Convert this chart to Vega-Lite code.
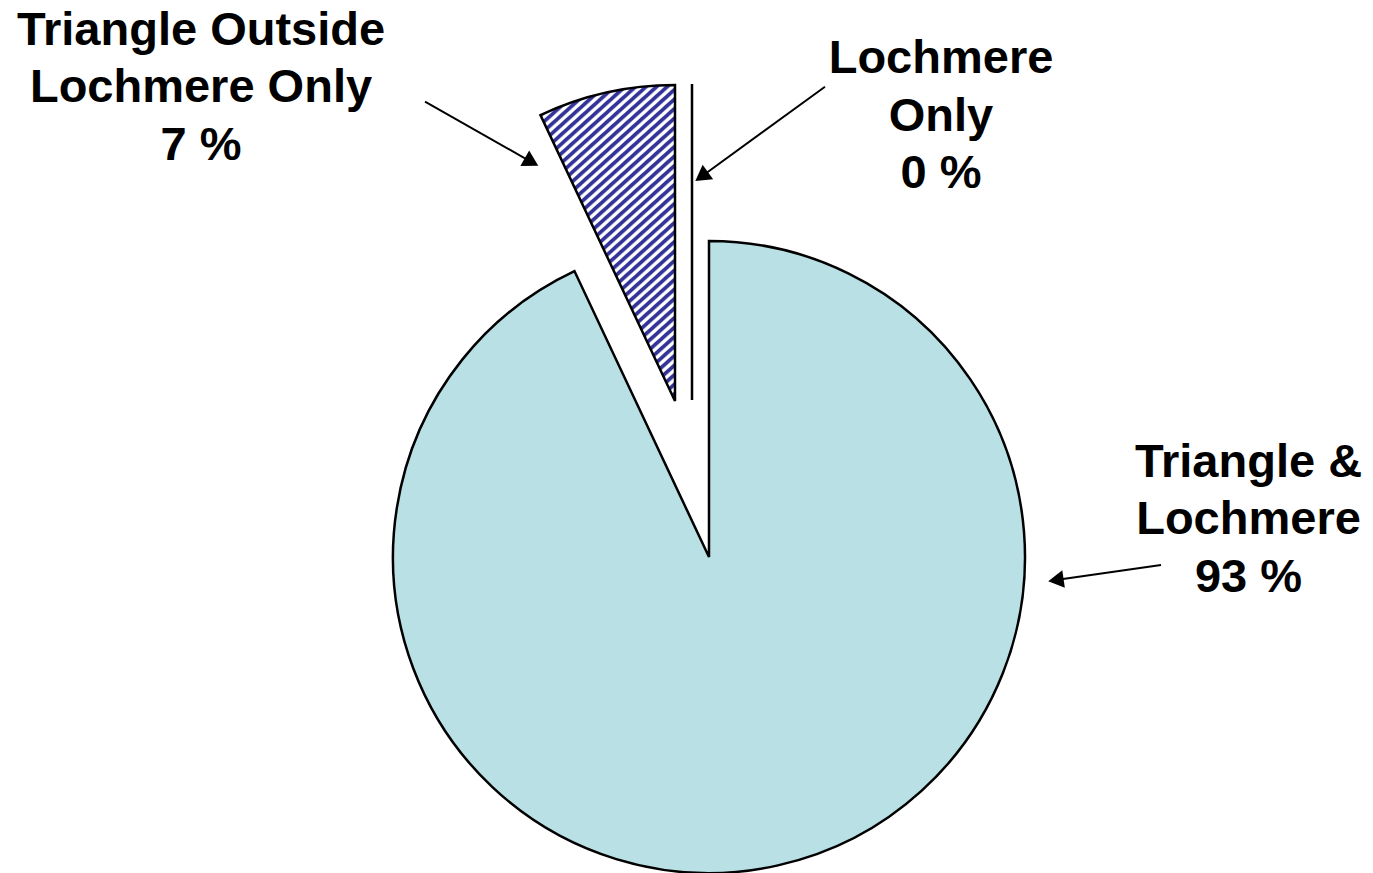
{
  "$schema": "https://vega.github.io/schema/vega-lite/v6.json",
  "width": 1373,
  "height": 873,
  "padding": 0,
  "autosize": {"type": "none"},
  "background": "white",
  "config": {"view": {"stroke": null}},
  "data": {
    "values": [
      {"category": "Triangle & Lochmere", "value": 93, "label": ["Triangle &", "Lochmere", "93 %"]},
      {"category": "Triangle Outside Lochmere Only", "value": 7, "label": ["Triangle Outside", "Lochmere Only", "7 %"]},
      {"category": "Lochmere Only", "value": 0, "label": ["Lochmere", "Only", "0 %"]}
    ]
  },
  "transform": [
    {"stack": "value", "groupby": [], "sort": [{"field": "value", "order": "descending"}], "as": ["t0", "t1"]}
  ],
  "layer": [
    {
      "transform": [{"filter": "datum.category === 'Triangle & Lochmere'"}],
      "mark": {"type": "arc", "outerRadius": 316, "fill": "#B9E0E4", "stroke": "#000000", "strokeWidth": 2.5},
      "encoding": {
        "x": {"datum": 0, "type": "quantitative", "scale": {"domain": [-224.37, 210.13], "nice": false, "zero": false}, "axis": null},
        "y": {"datum": 0, "type": "quantitative", "scale": {"domain": [-100, 176.27], "nice": false, "zero": false}, "axis": null},
        "theta": {"field": "t0", "type": "quantitative", "scale": {"domain": [0, 100]}},
        "theta2": {"field": "t1"}
      }
    },
    {
      "transform": [{"filter": "datum.category === 'Triangle Outside Lochmere Only'"}],
      "mark": {
        "type": "arc", "outerRadius": 316, "stroke": "#000000", "strokeWidth": 2.5,
        "fill": {
          "gradient": "linear", "x1": 0, "y1": 0, "x2": 0.4623, "y2": 1.2061,
          "stops": [
            {"offset": 0, "color": "#333399"}, {"offset": 0.0076, "color": "#333399"}, {"offset": 0.0120, "color": "#ffffff"}, {"offset": 0.0185, "color": "#ffffff"},
            {"offset": 0.0217, "color": "#333399"}, {"offset": 0.0293, "color": "#333399"}, {"offset": 0.0337, "color": "#ffffff"}, {"offset": 0.0402, "color": "#ffffff"},
            {"offset": 0.0435, "color": "#333399"}, {"offset": 0.0511, "color": "#333399"}, {"offset": 0.0554, "color": "#ffffff"}, {"offset": 0.0620, "color": "#ffffff"},
            {"offset": 0.0652, "color": "#333399"}, {"offset": 0.0728, "color": "#333399"}, {"offset": 0.0772, "color": "#ffffff"}, {"offset": 0.0837, "color": "#ffffff"},
            {"offset": 0.0870, "color": "#333399"}, {"offset": 0.0946, "color": "#333399"}, {"offset": 0.0989, "color": "#ffffff"}, {"offset": 0.1054, "color": "#ffffff"},
            {"offset": 0.1087, "color": "#333399"}, {"offset": 0.1163, "color": "#333399"}, {"offset": 0.1207, "color": "#ffffff"}, {"offset": 0.1272, "color": "#ffffff"},
            {"offset": 0.1304, "color": "#333399"}, {"offset": 0.1380, "color": "#333399"}, {"offset": 0.1424, "color": "#ffffff"}, {"offset": 0.1489, "color": "#ffffff"},
            {"offset": 0.1522, "color": "#333399"}, {"offset": 0.1598, "color": "#333399"}, {"offset": 0.1641, "color": "#ffffff"}, {"offset": 0.1707, "color": "#ffffff"},
            {"offset": 0.1739, "color": "#333399"}, {"offset": 0.1815, "color": "#333399"}, {"offset": 0.1859, "color": "#ffffff"}, {"offset": 0.1924, "color": "#ffffff"},
            {"offset": 0.1957, "color": "#333399"}, {"offset": 0.2033, "color": "#333399"}, {"offset": 0.2076, "color": "#ffffff"}, {"offset": 0.2141, "color": "#ffffff"},
            {"offset": 0.2174, "color": "#333399"}, {"offset": 0.2250, "color": "#333399"}, {"offset": 0.2293, "color": "#ffffff"}, {"offset": 0.2359, "color": "#ffffff"},
            {"offset": 0.2391, "color": "#333399"}, {"offset": 0.2467, "color": "#333399"}, {"offset": 0.2511, "color": "#ffffff"}, {"offset": 0.2576, "color": "#ffffff"},
            {"offset": 0.2609, "color": "#333399"}, {"offset": 0.2685, "color": "#333399"}, {"offset": 0.2728, "color": "#ffffff"}, {"offset": 0.2793, "color": "#ffffff"},
            {"offset": 0.2826, "color": "#333399"}, {"offset": 0.2902, "color": "#333399"}, {"offset": 0.2946, "color": "#ffffff"}, {"offset": 0.3011, "color": "#ffffff"},
            {"offset": 0.3043, "color": "#333399"}, {"offset": 0.3120, "color": "#333399"}, {"offset": 0.3163, "color": "#ffffff"}, {"offset": 0.3228, "color": "#ffffff"},
            {"offset": 0.3261, "color": "#333399"}, {"offset": 0.3337, "color": "#333399"}, {"offset": 0.3380, "color": "#ffffff"}, {"offset": 0.3446, "color": "#ffffff"},
            {"offset": 0.3478, "color": "#333399"}, {"offset": 0.3554, "color": "#333399"}, {"offset": 0.3598, "color": "#ffffff"}, {"offset": 0.3663, "color": "#ffffff"},
            {"offset": 0.3696, "color": "#333399"}, {"offset": 0.3772, "color": "#333399"}, {"offset": 0.3815, "color": "#ffffff"}, {"offset": 0.3880, "color": "#ffffff"},
            {"offset": 0.3913, "color": "#333399"}, {"offset": 0.3989, "color": "#333399"}, {"offset": 0.4033, "color": "#ffffff"}, {"offset": 0.4098, "color": "#ffffff"},
            {"offset": 0.4130, "color": "#333399"}, {"offset": 0.4207, "color": "#333399"}, {"offset": 0.4250, "color": "#ffffff"}, {"offset": 0.4315, "color": "#ffffff"},
            {"offset": 0.4348, "color": "#333399"}, {"offset": 0.4424, "color": "#333399"}, {"offset": 0.4467, "color": "#ffffff"}, {"offset": 0.4533, "color": "#ffffff"},
            {"offset": 0.4565, "color": "#333399"}, {"offset": 0.4641, "color": "#333399"}, {"offset": 0.4685, "color": "#ffffff"}, {"offset": 0.4750, "color": "#ffffff"},
            {"offset": 0.4783, "color": "#333399"}, {"offset": 0.4859, "color": "#333399"}, {"offset": 0.4902, "color": "#ffffff"}, {"offset": 0.4967, "color": "#ffffff"},
            {"offset": 0.5000, "color": "#333399"}, {"offset": 0.5076, "color": "#333399"}, {"offset": 0.5120, "color": "#ffffff"}, {"offset": 0.5185, "color": "#ffffff"},
            {"offset": 0.5217, "color": "#333399"}, {"offset": 0.5293, "color": "#333399"}, {"offset": 0.5337, "color": "#ffffff"}, {"offset": 0.5402, "color": "#ffffff"},
            {"offset": 0.5435, "color": "#333399"}, {"offset": 0.5511, "color": "#333399"}, {"offset": 0.5554, "color": "#ffffff"}, {"offset": 0.5620, "color": "#ffffff"},
            {"offset": 0.5652, "color": "#333399"}, {"offset": 0.5728, "color": "#333399"}, {"offset": 0.5772, "color": "#ffffff"}, {"offset": 0.5837, "color": "#ffffff"},
            {"offset": 0.5870, "color": "#333399"}, {"offset": 0.5946, "color": "#333399"}, {"offset": 0.5989, "color": "#ffffff"}, {"offset": 0.6054, "color": "#ffffff"},
            {"offset": 0.6087, "color": "#333399"}, {"offset": 0.6163, "color": "#333399"}, {"offset": 0.6207, "color": "#ffffff"}, {"offset": 0.6272, "color": "#ffffff"},
            {"offset": 0.6304, "color": "#333399"}, {"offset": 0.6380, "color": "#333399"}, {"offset": 0.6424, "color": "#ffffff"}, {"offset": 0.6489, "color": "#ffffff"},
            {"offset": 0.6522, "color": "#333399"}, {"offset": 0.6598, "color": "#333399"}, {"offset": 0.6641, "color": "#ffffff"}, {"offset": 0.6707, "color": "#ffffff"},
            {"offset": 0.6739, "color": "#333399"}, {"offset": 0.6815, "color": "#333399"}, {"offset": 0.6859, "color": "#ffffff"}, {"offset": 0.6924, "color": "#ffffff"},
            {"offset": 0.6957, "color": "#333399"}, {"offset": 0.7033, "color": "#333399"}, {"offset": 0.7076, "color": "#ffffff"}, {"offset": 0.7141, "color": "#ffffff"},
            {"offset": 0.7174, "color": "#333399"}, {"offset": 0.7250, "color": "#333399"}, {"offset": 0.7293, "color": "#ffffff"}, {"offset": 0.7359, "color": "#ffffff"},
            {"offset": 0.7391, "color": "#333399"}, {"offset": 0.7467, "color": "#333399"}, {"offset": 0.7511, "color": "#ffffff"}, {"offset": 0.7576, "color": "#ffffff"},
            {"offset": 0.7609, "color": "#333399"}, {"offset": 0.7685, "color": "#333399"}, {"offset": 0.7728, "color": "#ffffff"}, {"offset": 0.7793, "color": "#ffffff"},
            {"offset": 0.7826, "color": "#333399"}, {"offset": 0.7902, "color": "#333399"}, {"offset": 0.7946, "color": "#ffffff"}, {"offset": 0.8011, "color": "#ffffff"},
            {"offset": 0.8043, "color": "#333399"}, {"offset": 0.8120, "color": "#333399"}, {"offset": 0.8163, "color": "#ffffff"}, {"offset": 0.8228, "color": "#ffffff"},
            {"offset": 0.8261, "color": "#333399"}, {"offset": 0.8337, "color": "#333399"}, {"offset": 0.8380, "color": "#ffffff"}, {"offset": 0.8446, "color": "#ffffff"},
            {"offset": 0.8478, "color": "#333399"}, {"offset": 0.8554, "color": "#333399"}, {"offset": 0.8598, "color": "#ffffff"}, {"offset": 0.8663, "color": "#ffffff"},
            {"offset": 0.8696, "color": "#333399"}, {"offset": 0.8772, "color": "#333399"}, {"offset": 0.8815, "color": "#ffffff"}, {"offset": 0.8880, "color": "#ffffff"},
            {"offset": 0.8913, "color": "#333399"}, {"offset": 0.8989, "color": "#333399"}, {"offset": 0.9033, "color": "#ffffff"}, {"offset": 0.9098, "color": "#ffffff"},
            {"offset": 0.9130, "color": "#333399"}, {"offset": 0.9207, "color": "#333399"}, {"offset": 0.9250, "color": "#ffffff"}, {"offset": 0.9315, "color": "#ffffff"},
            {"offset": 0.9348, "color": "#333399"}, {"offset": 0.9424, "color": "#333399"}, {"offset": 0.9467, "color": "#ffffff"}, {"offset": 0.9533, "color": "#ffffff"},
            {"offset": 0.9565, "color": "#333399"}, {"offset": 0.9641, "color": "#333399"}, {"offset": 0.9685, "color": "#ffffff"}, {"offset": 0.9750, "color": "#ffffff"},
            {"offset": 0.9783, "color": "#333399"}, {"offset": 0.9859, "color": "#333399"}, {"offset": 0.9902, "color": "#ffffff"}, {"offset": 1, "color": "#ffffff"}
          ]
        }
      },
      "encoding": {
        "x": {"datum": -10.76, "type": "quantitative", "scale": {"domain": [-224.37, 210.13], "nice": false, "zero": false}, "axis": null},
        "y": {"datum": 49.37, "type": "quantitative", "scale": {"domain": [-100, 176.27], "nice": false, "zero": false}, "axis": null},
        "theta": {"field": "t0", "type": "quantitative", "scale": {"domain": [0, 100]}},
        "theta2": {"field": "t1"}
      }
    },
    {
      "transform": [{"filter": "datum.category === 'Lochmere Only'"}],
      "mark": {"type": "arc", "outerRadius": 316, "fill": "#ffffff", "stroke": "#000000", "strokeWidth": 2.5},
      "encoding": {
        "x": {"datum": -5.38, "type": "quantitative", "scale": {"domain": [-224.37, 210.13], "nice": false, "zero": false}, "axis": null},
        "y": {"datum": 49.68, "type": "quantitative", "scale": {"domain": [-100, 176.27], "nice": false, "zero": false}, "axis": null},
        "theta": {"field": "t0", "type": "quantitative", "scale": {"domain": [0, 100]}},
        "theta2": {"field": "t1"}
      }
    },
    {
      "transform": [{"filter": "datum.category === 'Triangle Outside Lochmere Only'"}],
      "mark": {"type": "text", "font": "Liberation Sans", "fontWeight": "bold", "fontSize": 47, "lineHeight": 57.5, "align": "center", "baseline": "alphabetic", "color": "#000000"},
      "encoding": {
        "x": {"datum": -160.76, "type": "quantitative", "scale": {"domain": [-224.37, 210.13], "nice": false, "zero": false}, "axis": null},
        "y": {"datum": 162.03, "type": "quantitative", "scale": {"domain": [-100, 176.27], "nice": false, "zero": false}, "axis": null},
        "text": {"field": "label"}
      }
    },
    {
      "transform": [{"filter": "datum.category === 'Lochmere Only'"}],
      "mark": {"type": "text", "font": "Liberation Sans", "fontWeight": "bold", "fontSize": 47, "lineHeight": 57.5, "align": "center", "baseline": "alphabetic", "color": "#000000"},
      "encoding": {
        "x": {"datum": 73.42, "type": "quantitative", "scale": {"domain": [-224.37, 210.13], "nice": false, "zero": false}, "axis": null},
        "y": {"datum": 153.16, "type": "quantitative", "scale": {"domain": [-100, 176.27], "nice": false, "zero": false}, "axis": null},
        "text": {"field": "label"}
      }
    },
    {
      "transform": [{"filter": "datum.category === 'Triangle & Lochmere'"}],
      "mark": {"type": "text", "font": "Liberation Sans", "fontWeight": "bold", "fontSize": 47, "lineHeight": 57.5, "align": "center", "baseline": "alphabetic", "color": "#000000"},
      "encoding": {
        "x": {"datum": 170.73, "type": "quantitative", "scale": {"domain": [-224.37, 210.13], "nice": false, "zero": false}, "axis": null},
        "y": {"datum": 25.41, "type": "quantitative", "scale": {"domain": [-100, 176.27], "nice": false, "zero": false}, "axis": null},
        "text": {"field": "label"}
      }
    },
    {
      "transform": [{"filter": "datum.category === 'Triangle Outside Lochmere Only'"}],
      "mark": {"type": "rule", "stroke": "#000000", "strokeWidth": 2},
      "encoding": {
        "x": {"datum": -89.87, "type": "quantitative", "scale": {"domain": [-224.37, 210.13], "nice": false, "zero": false}, "axis": null},
        "y": {"datum": 144.08, "type": "quantitative", "scale": {"domain": [-100, 176.27], "nice": false, "zero": false}, "axis": null},
        "x2": {"datum": -56.17},
        "y2": {"datum": 125.0}
      }
    },
    {
      "transform": [{"filter": "datum.category === 'Lochmere Only'"}],
      "mark": {"type": "rule", "stroke": "#000000", "strokeWidth": 2},
      "encoding": {
        "x": {"datum": 36.71, "type": "quantitative", "scale": {"domain": [-224.37, 210.13], "nice": false, "zero": false}, "axis": null},
        "y": {"datum": 148.83, "type": "quantitative", "scale": {"domain": [-100, 176.27], "nice": false, "zero": false}, "axis": null},
        "x2": {"datum": -2.34},
        "y2": {"datum": 120.41}
      }
    },
    {
      "transform": [{"filter": "datum.category === 'Triangle & Lochmere'"}],
      "mark": {"type": "rule", "stroke": "#000000", "strokeWidth": 2},
      "encoding": {
        "x": {"datum": 143.04, "type": "quantitative", "scale": {"domain": [-224.37, 210.13], "nice": false, "zero": false}, "axis": null},
        "y": {"datum": -2.53, "type": "quantitative", "scale": {"domain": [-100, 176.27], "nice": false, "zero": false}, "axis": null},
        "x2": {"datum": 109.78},
        "y2": {"datum": -7.31}
      }
    },
    {
      "transform": [{"filter": "datum.category === 'Triangle Outside Lochmere Only'"}],
      "mark": {"type": "point", "shape": "triangle-right", "size": 320, "angle": 29.5, "filled": true, "fill": "#000000", "strokeWidth": 0, "opacity": 1},
      "encoding": {
        "x": {"datum": -56.17, "type": "quantitative", "scale": {"domain": [-224.37, 210.13], "nice": false, "zero": false}, "axis": null},
        "y": {"datum": 125.0, "type": "quantitative", "scale": {"domain": [-100, 176.27], "nice": false, "zero": false}, "axis": null}
      }
    },
    {
      "transform": [{"filter": "datum.category === 'Lochmere Only'"}],
      "mark": {"type": "point", "shape": "triangle-right", "size": 320, "angle": 144, "filled": true, "fill": "#000000", "strokeWidth": 0, "opacity": 1},
      "encoding": {
        "x": {"datum": -2.34, "type": "quantitative", "scale": {"domain": [-224.37, 210.13], "nice": false, "zero": false}, "axis": null},
        "y": {"datum": 120.41, "type": "quantitative", "scale": {"domain": [-100, 176.27], "nice": false, "zero": false}, "axis": null}
      }
    },
    {
      "transform": [{"filter": "datum.category === 'Triangle & Lochmere'"}],
      "mark": {"type": "point", "shape": "triangle-right", "size": 320, "angle": 171.8, "filled": true, "fill": "#000000", "strokeWidth": 0, "opacity": 1},
      "encoding": {
        "x": {"datum": 109.78, "type": "quantitative", "scale": {"domain": [-224.37, 210.13], "nice": false, "zero": false}, "axis": null},
        "y": {"datum": -7.31, "type": "quantitative", "scale": {"domain": [-100, 176.27], "nice": false, "zero": false}, "axis": null}
      }
    }
  ]
}
